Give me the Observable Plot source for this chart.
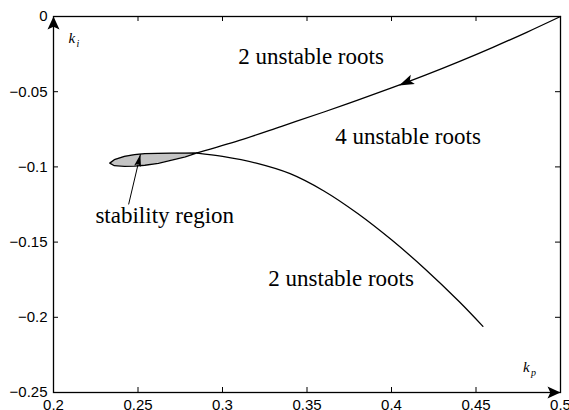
<!DOCTYPE html>
<html><head><meta charset="utf-8">
<script src="https://cdn.jsdelivr.net/npm/d3@7"></script>
<script src="https://cdn.jsdelivr.net/npm/@observablehq/plot@0.6"></script>
<style>body{margin:0;background:#fff} #chart svg{display:block;background:#fff}</style>
</head><body><div id="chart"></div>
<script>
// axis ticks
const xTicks = [0.2, 0.25, 0.3, 0.35, 0.4, 0.45, 0.5];
const yTicks = [0, -0.05, -0.1, -0.15, -0.2, -0.25];
const xInnerTicks = [0.25, 0.3, 0.35, 0.4, 0.45];
const yInnerTicks = [-0.05, -0.1, -0.15, -0.2];

// upper boundary curve (kp, ki)
const upperKp = [0.285, 0.31, 0.335, 0.36, 0.38, 0.40, 0.42, 0.44, 0.46, 0.48, 0.5];
const upperKi = [-0.0907, -0.0824, -0.0730, -0.0635, -0.0556, -0.0475, -0.0390, -0.0300, -0.0205, -0.0105, 0];

// lower boundary curve
const lowerKp = [0.285, 0.30, 0.32, 0.34, 0.36, 0.38, 0.40, 0.42, 0.44, 0.4541];
const lowerKi = [-0.0908, -0.0930, -0.0975, -0.1045, -0.1160, -0.1310, -0.1485, -0.1680, -0.1895, -0.2060];

// stability region (lens)
const regionKp  = [0.2333, 0.2360, 0.2420, 0.2480, 0.2540, 0.2620, 0.2700, 0.2780, 0.2850];
const regionTop = [-0.0975, -0.0952, -0.0930, -0.0918, -0.0912, -0.0910, -0.0909, -0.0908, -0.0907];
const regionBot = [-0.0975, -0.0992, -0.0996, -0.0995, -0.0989, -0.0976, -0.0955, -0.0933, -0.0907];

// annotations
const labelText = ["2 unstable roots", "4 unstable roots", "stability region", "2 unstable roots"];
const labelKp   = [0.3093, 0.3667, 0.2248, 0.3271];
const labelKi   = [-0.0266, -0.0798, -0.1323, -0.1742];

const curveArrowKp = [0.4045], curveArrowKi = [-0.0459], curveArrowAngle = [246];
const stabArrowKp = [0.2445, 0.2514], stabArrowKi = [-0.1247, -0.0918], stabArrowAngle = [13.4];

const axisLabelBase = ["k", "k"], axisLabelSub = ["i", "p"];
const axisLabelKp = [0.2089, 0.4778], axisLabelKi = [-0.0146, -0.2334];

const upper = upperKp.map((x, i) => ({x, y: upperKi[i]}));
const lower = lowerKp.map((x, i) => ({x, y: lowerKi[i]}));
const region = regionKp.map((x, i) => ({x, top: regionTop[i], bot: regionBot[i]}));
const outline = [...region.map(d => ({x: d.x, y: d.top})), ...region.slice().reverse().map(d => ({x: d.x, y: d.bot}))];
const labels = labelText.map((t, i) => ({t, x: labelKp[i], y: labelKi[i]}));
const axLabels = axisLabelBase.map((t, i) => ({t, s: axisLabelSub[i], x: axisLabelKp[i], y: axisLabelKi[i]}));

const W = 569, H = 410, mL = 53, mR = 9, mT = 16, mB = 18;
const iw = W - mL - mR, ih = H - mT - mB, tk = 5;

function headSymbol(len, half) {
  return {draw(ctx) {
    ctx.moveTo(0, 0);
    ctx.lineTo(-half, len);
    ctx.lineTo(0, len * 0.78);
    ctx.lineTo(half, len);
    ctx.closePath();
  }};
}

const serif = "'Liberation Serif', 'Times New Roman', serif";
const sans = "'Liberation Sans', Arial, sans-serif";

const chart = Plot.plot({
  width: W, height: H,
  marginLeft: mL, marginRight: mR, marginTop: mT, marginBottom: mB,
  x: {domain: [0.2, 0.5]},
  y: {domain: [-0.25, 0]},
  style: {background: "#fff", color: "#000"},
  marks: [
    Plot.areaY(region, {x: "x", y1: "bot", y2: "top", fill: "#c4c4c4"}),
    Plot.line(outline, {x: "x", y: "y", stroke: "#000", strokeWidth: 1.3}),
    Plot.line(upper, {x: "x", y: "y", stroke: "#000", strokeWidth: 1.3, curve: "catmull-rom"}),
    Plot.line(lower, {x: "x", y: "y", stroke: "#000", strokeWidth: 1.3, curve: "catmull-rom"}),
    Plot.frame({stroke: "#000", strokeWidth: 1.3}),
    Plot.tickX(xInnerTicks, {x: d => d, insetTop: ih - tk, stroke: "#000"}),
    Plot.tickX(xInnerTicks, {x: d => d, insetBottom: ih - tk, stroke: "#000"}),
    Plot.tickY(yInnerTicks, {y: d => d, insetRight: iw - tk, stroke: "#000"}),
    Plot.tickY(yInnerTicks, {y: d => d, insetLeft: iw - tk, stroke: "#000"}),
    Plot.axisX({ticks: xTicks, tickSize: 0, tickPadding: 7, label: null, fontSize: 15, fontFamily: sans, tickFormat: d => String(d)}),
    Plot.axisY({ticks: yTicks, tickSize: 0, tickPadding: 6, label: null, fontSize: 15, fontFamily: sans, tickFormat: d => d === 0 ? "0" : "\u2212" + String(-d)}),
    // axis arrows
    Plot.dot([0], {x: () => 0.2, y: () => 0, symbol: headSymbol(13, 6), r: 3, fill: "#000", stroke: "none", rotate: 0}),
    Plot.dot([0], {x: () => 0.5, y: () => -0.25, symbol: headSymbol(13, 6), r: 3, fill: "#000", stroke: "none", rotate: 90}),
    // arrow on upper curve
    Plot.dot(curveArrowKp, {x: d => d, y: (d, i) => curveArrowKi[i], symbol: headSymbol(15, 5), r: 3, fill: "#000", stroke: "none", rotate: curveArrowAngle[0]}),
    // stability region arrow
    Plot.line(stabArrowKp.map((x, i) => ({x, y: stabArrowKi[i]})), {x: "x", y: "y", stroke: "#000", strokeWidth: 1}),
    Plot.dot([stabArrowKp[1]], {x: d => d, y: () => stabArrowKi[1], symbol: headSymbol(12, 3.5), r: 3, fill: "#000", stroke: "none", rotate: stabArrowAngle[0]}),
    // annotations
    Plot.text(labels, {x: "x", y: "y", text: "t", textAnchor: "start", fontSize: 23, fontFamily: serif, fill: "#000"}),
    Plot.text(axLabels, {x: "x", y: "y", text: "t", textAnchor: "start", fontSize: 15, fontStyle: "italic", fontFamily: serif, fill: "#000"}),
    Plot.text(axLabels, {x: "x", y: "y", text: "s", textAnchor: "start", dx: 8, dy: 5, fontSize: 10, fontStyle: "italic", fontFamily: serif, fill: "#000"})
  ]
});
document.getElementById("chart").appendChild(chart);
</script>
</body></html>
